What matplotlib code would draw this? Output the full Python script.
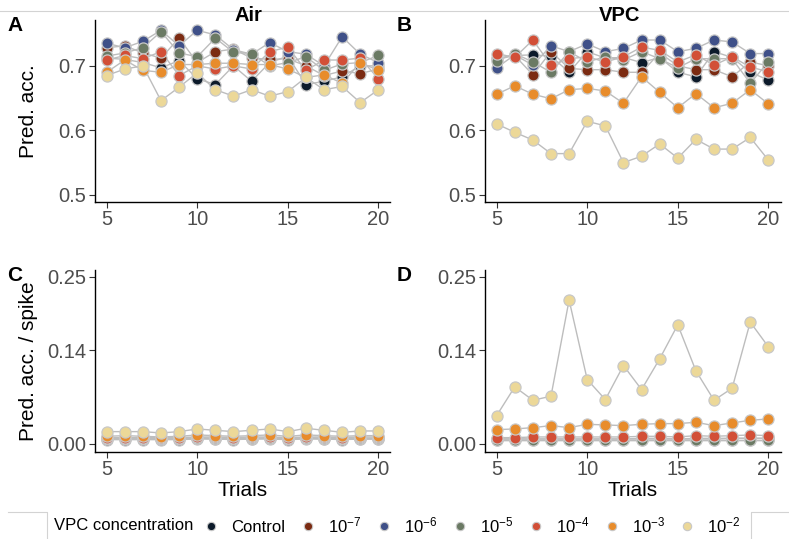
import matplotlib.pyplot as plt
import numpy as np
from matplotlib.lines import Line2D

plt.rcParams['font.family'] = ['Liberation Sans', 'DejaVu Sans']
plt.rcParams['mathtext.fontset'] = 'custom'
plt.rcParams['mathtext.rm'] = 'Liberation Sans'
plt.rcParams['mathtext.it'] = 'Liberation Sans:italic'
plt.rcParams['mathtext.bf'] = 'Liberation Sans:bold'

# --- DADOS ---
trials = list(range(5, 21))
grupos = ['Control', '1e-7', '1e-6', '1e-5', '1e-4', '1e-3', '1e-2']
rotulos = ['Control', r'$\mathregular{10^{-7}}$', r'$\mathregular{10^{-6}}$', r'$\mathregular{10^{-5}}$',
           r'$\mathregular{10^{-4}}$', r'$\mathregular{10^{-3}}$', r'$\mathregular{10^{-2}}$']
cores = ['#0c1a2a', '#7b2b12', '#3f5088', '#6b7a64', '#d24f37', '#e88c2b', '#ecd898']

# A: Air, pred. acc.
air_acc = {
    'Control': [0.712, 0.710, 0.705, 0.697, 0.708, 0.680, 0.671, 0.700, 0.676, 0.705, 0.715, 0.671, 0.676, 0.683, 0.700, 0.700],
    '1e-7':    [0.728, 0.731, 0.720, 0.712, 0.743, 0.705, 0.722, 0.726, 0.712, 0.710, 0.711, 0.700, 0.685, 0.692, 0.688, 0.695],
    '1e-6':    [0.735, 0.728, 0.738, 0.755, 0.731, 0.755, 0.748, 0.725, 0.718, 0.736, 0.722, 0.718, 0.700, 0.745, 0.718, 0.705],
    '1e-5':    [0.715, 0.720, 0.728, 0.753, 0.720, 0.714, 0.743, 0.721, 0.719, 0.700, 0.705, 0.714, 0.693, 0.703, 0.705, 0.716],
    '1e-4':    [0.709, 0.716, 0.711, 0.722, 0.685, 0.700, 0.695, 0.700, 0.695, 0.722, 0.729, 0.693, 0.709, 0.709, 0.712, 0.680],
    '1e-3':    [0.690, 0.709, 0.693, 0.690, 0.702, 0.702, 0.704, 0.704, 0.702, 0.702, 0.695, 0.682, 0.686, 0.673, 0.705, 0.693],
    '1e-2':    [0.685, 0.695, 0.700, 0.646, 0.667, 0.689, 0.663, 0.653, 0.663, 0.653, 0.660, 0.682, 0.663, 0.668, 0.643, 0.663],
}

# B: VPC, pred. acc.
vpc_acc = {
    'Control': [0.712, 0.716, 0.717, 0.715, 0.690, 0.722, 0.712, 0.713, 0.705, 0.713, 0.690, 0.683, 0.722, 0.713, 0.690, 0.678],
    '1e-7':    [0.710, 0.716, 0.686, 0.722, 0.696, 0.694, 0.694, 0.690, 0.690, 0.720, 0.700, 0.694, 0.694, 0.683, 0.706, 0.700],
    '1e-6':    [0.697, 0.717, 0.701, 0.731, 0.722, 0.734, 0.722, 0.727, 0.740, 0.740, 0.722, 0.727, 0.740, 0.737, 0.719, 0.719],
    '1e-5':    [0.708, 0.719, 0.706, 0.690, 0.722, 0.706, 0.714, 0.709, 0.722, 0.711, 0.697, 0.711, 0.711, 0.711, 0.673, 0.706],
    '1e-4':    [0.719, 0.713, 0.740, 0.701, 0.711, 0.714, 0.706, 0.714, 0.729, 0.724, 0.706, 0.717, 0.701, 0.714, 0.698, 0.691],
    '1e-3':    [0.656, 0.669, 0.656, 0.649, 0.663, 0.665, 0.661, 0.642, 0.683, 0.659, 0.635, 0.657, 0.635, 0.642, 0.663, 0.641],
    '1e-2':    [0.610, 0.597, 0.585, 0.564, 0.564, 0.614, 0.607, 0.550, 0.560, 0.579, 0.557, 0.586, 0.571, 0.571, 0.589, 0.554],
}

# C: Air, pred. acc. / spike
air_spk = {
    'Control': [0.006, 0.006, 0.006, 0.006, 0.006, 0.007, 0.007, 0.006, 0.007, 0.007, 0.006, 0.007, 0.007, 0.006, 0.007, 0.007],
    '1e-7':    [0.007, 0.007, 0.007, 0.007, 0.007, 0.008, 0.007, 0.007, 0.007, 0.008, 0.007, 0.008, 0.007, 0.007, 0.007, 0.007],
    '1e-6':    [0.008, 0.008, 0.008, 0.007, 0.008, 0.008, 0.008, 0.008, 0.008, 0.008, 0.008, 0.008, 0.008, 0.008, 0.008, 0.008],
    '1e-5':    [0.008, 0.008, 0.008, 0.008, 0.008, 0.009, 0.008, 0.008, 0.008, 0.009, 0.008, 0.009, 0.008, 0.008, 0.008, 0.008],
    '1e-4':    [0.009, 0.009, 0.009, 0.009, 0.009, 0.010, 0.010, 0.009, 0.010, 0.010, 0.009, 0.010, 0.010, 0.009, 0.010, 0.010],
    '1e-3':    [0.011, 0.012, 0.011, 0.010, 0.011, 0.013, 0.012, 0.011, 0.012, 0.013, 0.011, 0.013, 0.012, 0.011, 0.012, 0.012],
    '1e-2':    [0.018, 0.018, 0.018, 0.016, 0.018, 0.022, 0.020, 0.018, 0.020, 0.022, 0.018, 0.023, 0.020, 0.017, 0.019, 0.019],
}

# D: VPC, pred. acc. / spike
vpc_spk = {
    'Control': [0.006, 0.006, 0.006, 0.006, 0.006, 0.006, 0.006, 0.006, 0.006, 0.006, 0.006, 0.006, 0.006, 0.006, 0.006, 0.006],
    '1e-7':    [0.007, 0.007, 0.007, 0.007, 0.007, 0.007, 0.007, 0.007, 0.007, 0.007, 0.007, 0.007, 0.007, 0.008, 0.008, 0.008],
    '1e-6':    [0.007, 0.007, 0.007, 0.007, 0.007, 0.007, 0.007, 0.007, 0.008, 0.008, 0.007, 0.008, 0.008, 0.008, 0.008, 0.008],
    '1e-5':    [0.006, 0.006, 0.006, 0.006, 0.006, 0.006, 0.006, 0.006, 0.006, 0.006, 0.006, 0.006, 0.006, 0.006, 0.006, 0.006],
    '1e-4':    [0.009, 0.009, 0.010, 0.010, 0.010, 0.010, 0.010, 0.010, 0.011, 0.011, 0.010, 0.012, 0.011, 0.012, 0.013, 0.012],
    '1e-3':    [0.021, 0.022, 0.024, 0.027, 0.024, 0.029, 0.028, 0.027, 0.029, 0.030, 0.030, 0.032, 0.027, 0.031, 0.035, 0.037],
    '1e-2':    [0.042, 0.085, 0.065, 0.071, 0.215, 0.096, 0.066, 0.117, 0.081, 0.127, 0.178, 0.109, 0.065, 0.083, 0.182, 0.145],
}

# --- FIGURA ---
W, H = 789, 539
fig = plt.figure(figsize=(W / 100, H / 100), dpi=100)


def caixa(x0, x1, y0, y1):
    # pixels -> fracao da figura
    return [x0 / W, 1 - y1 / H, (x1 - x0) / W, (y1 - y0) / H]


# linhas de enquadramento (herdadas do layout original)
cinza = '#d3d3d3'
fig.add_artist(Line2D([0, 1], [1 - 11 / H, 1 - 11 / H], color=cinza, lw=0.8, transform=fig.transFigure, zorder=0))
fig.add_artist(Line2D([8 / W, 47 / W, 47 / W], [1 - 512 / H, 1 - 512 / H, 0], color=cinza, lw=0.8, transform=fig.transFigure))
fig.add_artist(Line2D([1, 751 / W, 751 / W], [1 - 512 / H, 1 - 512 / H, 0], color=cinza, lw=0.8, transform=fig.transFigure))

paineis = [
    (air_acc, caixa(94.5, 390.5, 20, 202), 'A', 'Air', 248, 'Pred. acc.', False, (0.489, 0.771), [0.5, 0.6, 0.7], ['0.5', '0.6', '0.7']),
    (vpc_acc, caixa(484.5, 780.5, 20, 202), 'B', 'VPC', 620, None, False, (0.489, 0.771), [0.5, 0.6, 0.7], ['0.5', '0.6', '0.7']),
    (air_spk, caixa(94.5, 390.5, 270, 452), 'C', None, 0, 'Pred. acc. / spike', True, (-0.0125, 0.26), [0.0, 0.14, 0.25], ['0.00', '0.14', '0.25']),
    (vpc_spk, caixa(484.5, 780.5, 270, 452), 'D', None, 0, None, True, (-0.0125, 0.26), [0.0, 0.14, 0.25], ['0.00', '0.14', '0.25']),
]

for dados, rect, letra, titulo, xt, ylab, xlab, ylim, yt, ytl in paineis:
    ax = fig.add_axes(rect)
    # linhas primeiro, depois os pontos (como no ggplot)
    for g in grupos:
        ax.plot(trials, dados[g], color='#bdbdbd', lw=1.0, zorder=1)
    for g, c in zip(grupos, cores):
        ax.plot(trials, dados[g], ls='none', marker='o', ms=8, mfc=c, mec='#c8c8c8', mew=0.9, zorder=2)
    ax.set_xlim(4.33, 20.67)
    ax.set_ylim(*ylim)
    ax.set_xticks([5, 10, 15, 20])
    ax.set_yticks(yt)
    ax.set_yticklabels(ytl)
    ax.tick_params(labelsize=14.5, labelcolor='#4d4d4d', length=4, width=0.8, color='#333333', pad=2)
    for s in ['top', 'right']:
        ax.spines[s].set_visible(False)
    for s in ['left', 'bottom']:
        ax.spines[s].set_linewidth(1.0)
    if ylab:
        ax.set_ylabel(ylab, fontsize=15)
        ax.yaxis.set_label_coords(-0.19, 0.5)
    if xlab:
        ax.set_xlabel('Trials', fontsize=15, labelpad=1)
    if titulo:
        fig.text(xt / W, 1 - 21 / H, titulo, fontsize=14.5, fontweight='bold', ha='center', va='baseline', zorder=5)
    x0 = rect[0] * W
    y_top = (1 - rect[1] - rect[3]) * H
    fig.text((x0 - 87.5) / W, 1 - (y_top + 5.5) / H, letra, fontsize=15, fontweight='bold', ha='left', va='center')

# --- LEGENDA ---
fig.text(54 / W, 1 - 525 / H, 'VPC concentration', fontsize=12, ha='left', va='center')
handles = [Line2D([], [], ls='none', marker='o', ms=6, mfc=c, mec='#c8c8c8', mew=0.8) for c in cores]
fig.legend(handles, rotulos, ncol=7, loc='center left', bbox_to_anchor=(203 / W, 1 - 525 / H),
           frameon=False, fontsize=12, handlelength=1.0, handletextpad=0.7, columnspacing=0.85,
           borderpad=0, borderaxespad=0)

plt.savefig('out.png', dpi=100)
